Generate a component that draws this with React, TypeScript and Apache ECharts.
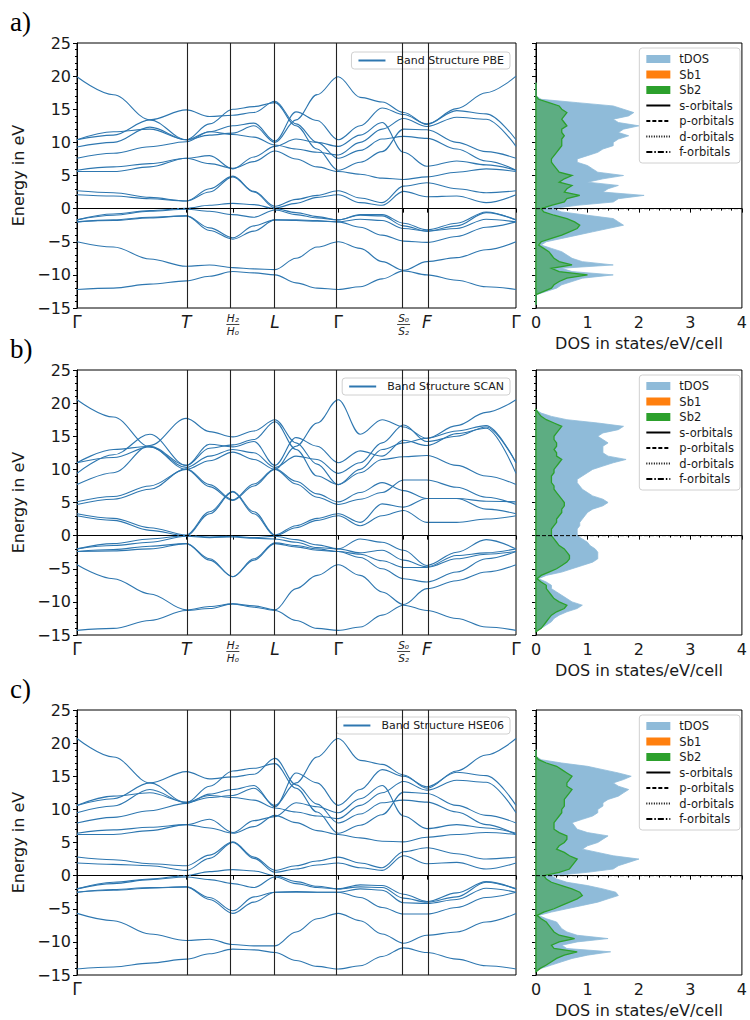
import React, { useEffect, useRef } from 'react';
import * as echarts from 'echarts';

// k-path sample positions (fraction of total path length)
const K_PATH = [0, 0.083, 0.166, 0.249, 0.302, 0.355, 0.403, 0.451, 0.499, 0.547, 0.595, 0.645, 0.695, 0.744, 0.797, 0.865, 0.932, 1.0];
const SYM_K = [0, 0.249, 0.355, 0.451, 0.595, 0.744, 0.797, 1.0];
const SYM_LABELS = ['Γ', 'T', 'H', 'L', 'Γ', 'S', 'F', 'Γ'];
const E_MIN = -15;
const E_MAX = 25;

// Panel a) PBE bands (eV) at K_PATH
const PBE_BANDS = [
  [-12.2, -12.0, -11.4, -10.9, -10.2, -9.5, -9.7, -10.0, -11.2, -12.0, -12.2, -11.8, -10.6, -9.4, -10.0, -10.8, -11.8, -12.2],
  [-5.0, -5.8, -7.6, -8.7, -8.5, -8.9, -9.1, -9.2, -7.5, -5.8, -5.0, -6.0, -8.0, -9.3, -8.0, -7.4, -6.2, -5.0],
  [-2.0, -1.8, -1.4, -1.1, -3.3, -4.6, -3.4, -1.7, -1.8, -1.9, -2.0, -2.8, -4.0, -4.9, -5.1, -4.2, -2.8, -2.0],
  [-2.0, -1.7, -1.3, -1.1, -2.9, -4.4, -2.6, -1.7, -1.7, -1.8, -2.0, -1.6, -1.8, -3.0, -3.4, -3.0, -1.6, -2.0],
  [-1.7, -1.0, -0.4, -0.1, -0.4, -0.9, -1.3, -0.2, -0.9, -1.4, -1.7, -1.0, -1.1, -2.6, -3.4, -2.6, -0.6, -1.7],
  [-1.7, -0.8, -0.3, 0.05, 0.5, 0.8, 0.6, 0.0, -0.6, -1.2, -1.7, -0.9, -0.9, -2.2, -3.2, -2.2, -0.5, -1.7],
  [2.1, 1.9, 1.5, 1.15, 2.5, 4.8, 2.5, 0.1, 0.8, 1.7, 2.1, 0.9, 0.5, 2.6, 1.8, 1.9, 0.9, 2.1],
  [2.7, 2.4, 1.7, 1.15, 3.0, 4.9, 2.6, 0.35, 1.4, 2.0, 2.7, 1.6, 0.9, 3.4, 3.9, 3.0, 2.4, 2.7],
  [19.9, 17.2, 13.4, 10.4, 11.1, 11.4, 12.5, 10.0, 13.4, 17.2, 19.9, 16.8, 16.1, 14.5, 12.7, 15.1, 17.5, 20.0],
  [10.4, 11.1, 13.4, 14.9, 13.9, 14.1, 14.5, 16.2, 12.8, 10.0, 7.6, 8.8, 10.5, 10.9, 10.6, 9.0, 7.2, 5.8],
  [9.3, 10.0, 12.3, 10.4, 12.8, 15.0, 15.4, 16.0, 12.5, 9.0, 5.8, 7.0, 8.6, 12.0, 11.9, 10.0, 8.6, 7.6],
  [7.6, 8.35, 9.35, 10.1, 11.6, 12.5, 12.9, 10.2, 14.6, 13.3, 10.4, 12.5, 15.2, 14.2, 12.8, 14.8, 14.3, 10.4],
  [5.8, 6.3, 6.8, 7.6, 6.8, 6.1, 7.1, 8.7, 7.5, 6.3, 5.6, 5.2, 4.6, 4.4, 4.8, 5.5, 6.0, 5.6],
  [5.6, 5.6, 6.3, 7.6, 8.0, 6.0, 7.8, 9.4, 10.5, 10.0, 9.4, 11.1, 13.0, 8.5, 6.4, 7.2, 6.6, 5.8],
  [10.4, 11.6, 12.0, 10.4, 11.6, 11.2, 10.8, 9.6, 9.0, 8.5, 8.1, 10.0, 12.0, 13.6, 12.4, 13.8, 13.5, 9.4],
];

// Panel b) SCAN bands
const SCAN_BANDS = [
  [-14.3, -14.0, -12.8, -11.3, -11.0, -10.3, -10.8, -11.3, -12.8, -14.0, -14.3, -13.8, -12.0, -10.5, -11.3, -12.5, -13.8, -14.3],
  [-4.4, -6.5, -8.8, -11.2, -10.7, -10.3, -10.6, -11.2, -8.0, -6.0, -4.4, -6.0, -8.5, -10.4, -8.0, -6.8, -5.5, -4.4],
  [-2.4, -2.3, -2.0, -1.2, -3.7, -6.2, -3.7, -1.2, -1.7, -2.2, -2.4, -3.3, -5.0, -6.5, -7.0, -5.5, -3.5, -2.4],
  [-2.4, -2.1, -1.6, -1.2, -3.5, -6.2, -3.5, -1.1, -1.5, -2.0, -2.4, -2.8, -3.8, -4.8, -4.8, -3.5, -2.8, -2.4],
  [-2.0, -1.5, -1.0, -0.1, -0.3, -0.2, -0.4, -0.5, -1.0, -1.8, -2.0, -2.6, -2.2, -3.7, -4.7, -3.0, -2.6, -2.0],
  [-2.0, -1.2, -0.5, 0.0, -0.2, -0.1, -0.3, -0.1, -0.6, -1.4, -2.0, -0.5, -1.0, -2.2, -4.5, -2.5, -0.6, -2.0],
  [3.0, 2.3, 0.8, 0.0, 3.3, 6.6, 3.3, 0.0, 1.2, 2.3, 3.0, 1.5, 3.0, 3.8, 2.0, 2.0, 2.5, 3.0],
  [3.3, 2.6, 1.2, 0.1, 3.6, 6.7, 3.6, 0.1, 1.5, 2.6, 3.3, 2.0, 4.8, 4.3, 5.6, 5.6, 4.0, 3.3],
  [20.5, 17.9, 13.4, 10.0, 11.3, 12.6, 11.5, 10.0, 13.5, 17.0, 20.5, 15.3, 17.5, 16.4, 14.7, 16.6, 18.6, 20.5],
  [7.7, 9.5, 13.6, 17.7, 15.7, 14.9, 15.8, 17.5, 14.0, 10.8, 7.7, 9.5, 11.5, 11.9, 12.1, 10.6, 9.0, 7.7],
  [9.4, 12.2, 15.3, 10.6, 13.8, 13.4, 14.2, 10.6, 14.8, 13.5, 11.0, 12.8, 12.0, 14.4, 13.6, 15.4, 16.2, 9.4],
  [11.0, 11.8, 13.4, 10.3, 12.0, 13.0, 12.5, 10.3, 12.0, 11.5, 9.4, 11.0, 14.0, 16.7, 14.2, 15.0, 16.4, 11.0],
  [5.1, 5.9, 7.5, 10.0, 7.4, 5.3, 7.5, 10.0, 7.8, 5.8, 4.7, 5.5, 6.5, 8.4, 8.4, 7.3, 5.8, 4.7],
  [4.7, 5.5, 7.0, 10.1, 7.7, 5.4, 7.8, 10.1, 8.2, 6.3, 5.1, 6.5, 8.0, 6.8, 5.6, 5.6, 5.2, 5.1],
  [11.0, 13.0, 13.5, 10.6, 13.2, 13.7, 14.5, 17.2, 13.0, 9.0, 7.7, 10.0, 13.0, 14.0, 14.7, 15.8, 16.6, 11.0],
];

// Panel c) HSE06 bands
const HSE_BANDS = [
  [-14.1, -13.8, -13.2, -12.6, -11.8, -11.1, -11.2, -11.6, -12.8, -13.7, -14.1, -13.6, -12.2, -10.9, -11.6, -12.6, -13.6, -14.1],
  [-5.7, -6.8, -8.8, -9.8, -9.6, -10.4, -10.6, -10.6, -8.5, -6.5, -5.7, -6.8, -8.8, -10.2, -9.0, -8.5, -7.0, -5.7],
  [-2.5, -2.2, -1.9, -1.7, -3.6, -5.7, -4.0, -2.5, -2.5, -2.5, -2.5, -3.3, -4.8, -5.8, -5.8, -4.8, -3.3, -2.5],
  [-2.5, -2.1, -1.8, -1.7, -3.3, -5.3, -3.2, -2.5, -2.4, -2.5, -2.5, -2.0, -2.2, -4.1, -4.2, -3.6, -1.9, -2.5],
  [-2.0, -1.2, -0.6, -0.2, -0.6, -1.2, -1.8, -0.2, -1.2, -1.8, -2.0, -1.7, -1.8, -3.4, -4.0, -3.2, -1.0, -2.0],
  [-2.0, -1.0, -0.5, 0.0, 0.6, 0.9, 0.7, 0.0, -0.9, -1.6, -2.0, -1.4, -1.5, -2.8, -3.9, -2.6, -0.9, -2.0],
  [1.9, 1.7, 1.5, 0.8, 2.6, 5.0, 2.6, 0.5, 1.0, 1.6, 1.9, 1.2, 0.8, 3.0, 1.8, 2.0, 1.0, 1.9],
  [2.8, 2.4, 1.8, 1.5, 3.1, 5.1, 2.8, 0.8, 1.5, 2.2, 2.8, 1.9, 1.2, 3.6, 4.2, 3.3, 2.5, 2.8],
  [20.7, 17.9, 14.0, 11.0, 11.8, 12.1, 13.2, 10.6, 14.0, 17.9, 20.7, 17.4, 16.8, 15.2, 13.2, 15.8, 18.2, 20.7],
  [10.6, 11.6, 14.0, 15.7, 14.6, 14.9, 15.3, 17.7, 13.7, 10.8, 7.95, 9.3, 11.0, 11.4, 11.1, 9.6, 7.7, 6.2],
  [9.5, 10.5, 13.0, 11.0, 13.5, 15.8, 16.2, 16.9, 13.2, 9.6, 6.4, 7.6, 9.2, 12.6, 12.4, 10.6, 9.1, 7.95],
  [7.95, 8.8, 9.8, 10.9, 12.3, 13.0, 13.6, 10.4, 15.5, 14.0, 10.6, 13.0, 16.0, 15.0, 13.4, 15.6, 15.1, 10.6],
  [6.4, 6.9, 7.3, 7.7, 7.2, 6.4, 7.4, 9.1, 8.0, 6.8, 6.2, 5.7, 5.2, 5.1, 5.8, 6.2, 6.5, 6.2],
  [6.2, 6.2, 6.8, 7.7, 8.5, 6.5, 8.3, 8.9, 11.0, 10.4, 9.5, 11.6, 13.6, 9.0, 7.1, 7.7, 7.2, 6.4],
  [10.6, 12.0, 12.5, 11.1, 12.1, 11.8, 11.4, 10.2, 9.6, 9.0, 8.6, 10.6, 12.5, 14.2, 12.9, 14.4, 14.1, 9.5],
];

// DOS energy grid (eV)
const DOS_E = [
  -14.5, -14, -13.5, -13, -12.5, -12, -11.5, -11, -10.5, -10,
  -9.5, -9, -8.5, -8, -7.5, -7, -6.5, -6, -5.5, -5,
  -4.5, -4, -3.5, -3, -2.5, -2, -1.5, -1, -0.5, 0,
  0.5, 1, 1.5, 2, 2.5, 3, 3.5, 4, 4.5, 5,
  5.5, 6, 6.5, 7, 7.5, 8, 8.5, 9, 9.5, 10,
  10.5, 11, 11.5, 12, 12.5, 13, 13.5, 14, 14.5, 15,
  15.5, 16, 16.5, 17, 17.5, 18, 18.5, 19,
];

const PBE_TDOS = [
  0, 0, 0, 0.0, 0.2, 0.4, 0.5, 0.7, 0.9, 1.5,
  0.7, 0.5, 1.5, 0.9, 0.7, 0.6, 0.5, 0.3, 0.1, 0.2,
  0.5, 0.8, 1.1, 1.4, 1.7, 1.6, 1.5, 1.0, 0.5, 0.3,
  0.8, 1.5, 1.6, 2.1, 1.3, 1.4, 1.6, 1.0, 1.3, 1.7,
  1.2, 1.1, 1.0, 0.8, 0.8, 1.0, 1.2, 1.3, 1.5, 1.5,
  1.6, 1.8, 1.6, 1.7, 2.0, 1.6, 1.5, 1.8, 1.9, 1.7,
  1.5, 0.8, 0.1, 0, 0, 0, 0, 0,
];
const PBE_SB2 = [
  0, 0, 0, 0, 0.15, 0.3, 0.35, 0.45, 0.6, 1.0,
  0.45, 0.3, 0.7, 0.45, 0.35, 0.3, 0.25, 0.15, 0.05, 0.1,
  0.3, 0.5, 0.65, 0.8, 0.85, 0.75, 0.6, 0.35, 0.15, 0.1,
  0.3, 0.55, 0.6, 0.85, 0.55, 0.6, 0.7, 0.45, 0.55, 0.7,
  0.45, 0.4, 0.35, 0.3, 0.3, 0.35, 0.4, 0.45, 0.5, 0.5,
  0.5, 0.55, 0.5, 0.5, 0.6, 0.55, 0.5, 0.55, 0.6, 0.5,
  0.45, 0.25, 0.05, 0, 0, 0, 0, 0,
];
const SCAN_TDOS = [
  0.0, 0.1, 0.2, 0.3, 0.35, 0.45, 0.6, 0.8, 0.9, 0.7,
  0.6, 0.5, 0.4, 0.3, 0.3, 0.2, 0.05, 0.2, 0.5, 0.7,
  0.9, 1.1, 1.2, 1.2, 1.2, 1.15, 1.05, 1.0, 0.9, 0.8,
  0.8, 0.8, 0.85, 0.85, 0.9, 0.95, 1.0, 1.1, 1.3, 1.4,
  1.3, 1.1, 1.0, 0.9, 0.85, 0.8, 0.8, 0.9, 1.0, 1.1,
  1.3, 1.5, 1.75, 1.4, 1.3, 1.3, 1.3, 1.4, 1.3, 1.2,
  1.3, 1.6, 1.7, 1.2, 0.6, 0.3, 0.1, 0.0,
];
const SCAN_SB2 = [
  0, 0.1, 0.15, 0.2, 0.25, 0.3, 0.4, 0.55, 0.6, 0.45,
  0.35, 0.3, 0.25, 0.2, 0.2, 0.1, 0.02, 0.1, 0.25, 0.4,
  0.5, 0.6, 0.65, 0.65, 0.6, 0.55, 0.45, 0.4, 0.35, 0.3,
  0.3, 0.3, 0.35, 0.4, 0.4, 0.45, 0.5, 0.5, 0.55, 0.55,
  0.5, 0.45, 0.4, 0.35, 0.35, 0.3, 0.3, 0.3, 0.35, 0.35,
  0.4, 0.45, 0.5, 0.4, 0.4, 0.35, 0.4, 0.4, 0.35, 0.35,
  0.4, 0.45, 0.5, 0.35, 0.2, 0.1, 0.05, 0,
];
const HSE_TDOS = [
  0, 0.1, 0.3, 0.5, 0.7, 1.0, 1.45, 0.6, 0.5, 0.8,
  1.4, 0.8, 0.6, 0.5, 0.45, 0.4, 0.2, 0.05, 0.3, 0.6,
  0.9, 1.2, 1.4, 1.6, 1.55, 1.3, 1.0, 0.6, 0.4, 0.3,
  1.0, 1.5, 1.6, 1.8, 2.0, 1.5, 1.2, 0.9, 1.0, 1.2,
  1.3, 1.4, 1.0, 0.8, 0.75, 0.7, 0.9, 1.1, 1.2, 1.2,
  1.3, 1.3, 1.4, 1.6, 1.7, 1.8, 1.6, 1.5, 1.7, 1.85,
  1.6, 1.3, 1.0, 0.5, 0.1, 0, 0, 0,
];
const HSE_SB2 = [
  0, 0.08, 0.2, 0.3, 0.4, 0.55, 0.8, 0.35, 0.3, 0.45,
  0.75, 0.45, 0.35, 0.3, 0.25, 0.2, 0.1, 0.02, 0.15, 0.35,
  0.5, 0.65, 0.8, 0.9, 0.85, 0.7, 0.5, 0.3, 0.2, 0.15,
  0.45, 0.65, 0.7, 0.75, 0.8, 0.65, 0.55, 0.4, 0.45, 0.55,
  0.6, 0.6, 0.45, 0.35, 0.35, 0.35, 0.4, 0.45, 0.5, 0.5,
  0.55, 0.55, 0.55, 0.6, 0.65, 0.7, 0.6, 0.6, 0.65, 0.7,
  0.6, 0.5, 0.4, 0.2, 0.05, 0, 0, 0,
];

const DOS_LEGEND = ['tDOS', 'Sb1', 'Sb2', 's-orbitals', 'p-orbitals', 'd-orbitals', 'f-orbitals'];
const ORBITAL_DASH: any[] = ['solid', [4, 2], [1, 1.5], [6, 2, 1.5, 2]];

const PANELS = [
  { tag: 'a)', name: 'Band Structure PBE', bands: PBE_BANDS, tdos: PBE_TDOS, sb2: PBE_SB2, top: 43, allLabels: true, legendTop: 52 },
  { tag: 'b)', name: 'Band Structure SCAN', bands: SCAN_BANDS, tdos: SCAN_TDOS, sb2: SCAN_SB2, top: 370, allLabels: true, legendTop: 378 },
  { tag: 'c)', name: 'Band Structure HSE06', bands: HSE_BANDS, tdos: HSE_TDOS, sb2: HSE_SB2, top: 710, allLabels: false, legendTop: 717 },
];

const LINE_COLOR = '#2e77b0';
const TDOS_COLOR = '#8fbbd9';
const SB1_COLOR = '#ff7f0e';
const SB2_COLOR = '#2ca02c';
const SB2_FILL = 'rgba(44,160,44,0.5)';
const TEXT = '#1a1a1a';
const FONT = 'DejaVu Sans';

function symLabel(v: number) {
  const i = SYM_K.findIndex((k) => Math.abs(k - v) < 1e-6);
  if (i < 0) return '';
  const s = SYM_LABELS[i];
  if (s === 'Γ') return '{g|Γ}';
  if (s === 'H') return '{f|H₂}\n{bar| }\n{f|H₀}';
  if (s === 'S') return '{f|S₀}\n{bar| }\n{f|S₂}';
  return '{i|' + s + '}';
}

function buildOption() {
  const grid: any[] = [];
  const xAxis: any[] = [];
  const yAxis: any[] = [];
  const series: any[] = [];
  const legend: any[] = [];
  const graphic: any[] = [];

  PANELS.forEach((p, pi) => {
    const gb = pi * 2;
    const gd = pi * 2 + 1;
    grid.push({ left: 77, top: p.top, width: 439, height: 265, show: true, borderColor: '#000', borderWidth: 1 });
    grid.push({ left: 536, top: p.top, width: 208, height: 265, show: true, borderColor: '#000', borderWidth: 1 });

    const tickVals = p.allLabels ? SYM_K : [0];
    xAxis.push({
      gridIndex: gb, type: 'value', min: 0, max: 1,
      axisLine: { show: true, lineStyle: { color: '#000', width: 1 } },
      axisTick: { show: true, customValues: SYM_K, length: 4, lineStyle: { color: '#000' } },
      axisLabel: {
        customValues: tickVals, margin: 5, formatter: (v: number) => symLabel(v),
        rich: {
          g: { fontSize: 17, fontFamily: FONT, color: TEXT },
          i: { fontSize: 17, fontFamily: FONT, fontStyle: 'italic', color: TEXT },
          f: { fontSize: 10.5, fontFamily: FONT, fontStyle: 'italic', color: TEXT, lineHeight: 10 },
          bar: { width: 13, height: 0.8, lineHeight: 3, backgroundColor: TEXT, fontSize: 1 },
        },
      },
      splitLine: { show: false },
    });
    yAxis.push({
      gridIndex: gb, type: 'value', min: E_MIN, max: E_MAX, interval: 5,
      axisLine: { show: true, lineStyle: { color: '#000', width: 1 } },
      axisTick: { show: true, length: 4, lineStyle: { color: '#000' } },
      minorTick: { show: true, splitNumber: 5, length: 2, lineStyle: { color: '#000' } },
      axisLabel: { fontSize: 16, fontFamily: FONT, color: TEXT, margin: 6, formatter: (v: number) => (v < 0 ? '−' + Math.abs(v) : String(v)) },
      splitLine: { show: false },
      minorSplitLine: { show: false },
      name: 'Energy in eV', nameLocation: 'middle', nameGap: 44,
      nameTextStyle: { fontSize: 16, fontFamily: FONT, color: TEXT },
    });
    xAxis.push({
      gridIndex: gd, type: 'value', min: 0, max: 4, interval: 1,
      axisLine: { show: true, lineStyle: { color: '#000', width: 1 } },
      axisTick: { show: true, length: 4, lineStyle: { color: '#000' } },
      minorTick: { show: true, splitNumber: 5, length: 2, lineStyle: { color: '#000' } },
      axisLabel: { fontSize: 16, fontFamily: FONT, color: TEXT, margin: 6 },
      splitLine: { show: false },
      name: 'DOS in states/eV/cell', nameLocation: 'middle', nameGap: 27,
      nameTextStyle: { fontSize: 16, fontFamily: FONT, color: TEXT },
    });
    yAxis.push({
      gridIndex: gd, type: 'value', min: E_MIN, max: E_MAX, interval: 5,
      axisLine: { show: true, lineStyle: { color: '#000', width: 1 } },
      axisTick: { show: true, length: 4, lineStyle: { color: '#000' } },
      minorTick: { show: true, splitNumber: 5, length: 2, lineStyle: { color: '#000' } },
      axisLabel: { show: false },
      splitLine: { show: false },
    });

    p.bands.forEach((row, bi) => {
      const s: any = {
        type: 'line', name: p.name, xAxisIndex: gb, yAxisIndex: gb,
        data: K_PATH.map((k, i) => [k, row[i]]),
        smooth: 0.35, smoothMonotone: 'x', symbol: 'none', silent: true,
        lineStyle: { color: LINE_COLOR, width: 1.1 }, itemStyle: { color: LINE_COLOR }, z: 3,
      };
      if (bi === 0) {
        s.markLine = {
          silent: true, symbol: ['none', 'none'], label: { show: false }, animation: false,
          data: [
            ...SYM_K.slice(1, -1).map((k) => ({ xAxis: k, lineStyle: { color: '#222', type: 'solid', width: 1.1 } })),
            { yAxis: 0, lineStyle: { color: '#000', type: [4, 2], width: 1 } },
          ],
        };
      }
      series.push(s);
    });

    const dosSeries = (name: string, vals: number[], legendColor: string, fill: string, stroke: string, lw: number, z: number) => ({
      type: 'custom', name, xAxisIndex: gd, yAxisIndex: gd, data: [0], silent: true, z,
      itemStyle: { color: legendColor },
      renderItem: (_params: any, api: any) => {
        const pts = DOS_E.map((e, i) => api.coord([vals[i], e]));
        return {
          type: 'polygon', shape: { points: pts },
          style: { fill, stroke, lineWidth: lw },
        };
      },
    });
    series.push(dosSeries('tDOS', p.tdos, TDOS_COLOR, TDOS_COLOR, TDOS_COLOR, 0.8, 2));
    series.push({ type: 'custom', name: 'Sb1', xAxisIndex: gd, yAxisIndex: gd, data: [], itemStyle: { color: SB1_COLOR }, renderItem: () => null });
    series.push(dosSeries('Sb2', p.sb2, SB2_COLOR, SB2_FILL, SB2_COLOR, 1.3, 3));
    ['s-orbitals', 'p-orbitals', 'd-orbitals', 'f-orbitals'].forEach((n, oi) => {
      series.push({
        type: 'line', name: n, xAxisIndex: gd, yAxisIndex: gd, data: [], symbol: 'none',
        lineStyle: { color: '#000', width: 1, type: ORBITAL_DASH[oi] }, itemStyle: { color: '#000' },
      });
    });
    series.push({
      type: 'line', name: 'fermi', xAxisIndex: gd, yAxisIndex: gd, data: [[0, 0], [4, 0]], symbol: 'none', silent: true, z: 5,
      lineStyle: { color: '#000', width: 1, type: [4, 2] },
    });

    legend.push({
      data: [{ name: p.name, itemStyle: { opacity: 0 } }], selectedMode: false, orient: 'horizontal',
      right: 240, top: p.legendTop, itemWidth: 27, itemHeight: 10, itemGap: 6,
      padding: [3, 6, 3, 6], backgroundColor: 'rgba(255,255,255,0.85)', borderColor: '#d0d0d0', borderWidth: 1, borderRadius: 3,
      textStyle: { fontSize: 11, fontFamily: FONT, color: TEXT, padding: [0, 0, 0, 6] },
    });
    legend.push({
      data: DOS_LEGEND.map((n, i) => (i < 3 ? { name: n, icon: 'rect' } : { name: n, itemStyle: { opacity: 0 } })),
      selectedMode: false, orient: 'vertical', right: 10, top: p.top + 5,
      itemWidth: 24, itemHeight: 8, itemGap: 3.5, padding: [5, 6, 5, 6],
      backgroundColor: 'rgba(255,255,255,0.85)', borderColor: '#d0d0d0', borderWidth: 1, borderRadius: 3,
      textStyle: { fontSize: 11.5, fontFamily: FONT, color: TEXT, padding: [0, 0, 0, 4] },
    });

    graphic.push({
      type: 'text', left: 10, top: p.top - 35,
      style: { text: p.tag, fontSize: 27, fontFamily: 'Liberation Serif', fill: '#000' },
    });
  });

  return { animation: false, backgroundColor: '#fff', grid, xAxis, yAxis, series, legend, graphic };
}

export default function App() {
  const ref = useRef<HTMLDivElement>(null);
  useEffect(() => {
    if (!ref.current) return;
    const chart = echarts.init(ref.current, null, { renderer: 'svg', width: 750, height: 1020 });
    chart.setOption(buildOption() as any);
    return () => chart.dispose();
  }, []);
  return <div ref={ref} style={{ position: 'absolute', left: 0, top: 0, width: 750, height: 1020 }} />;
}
